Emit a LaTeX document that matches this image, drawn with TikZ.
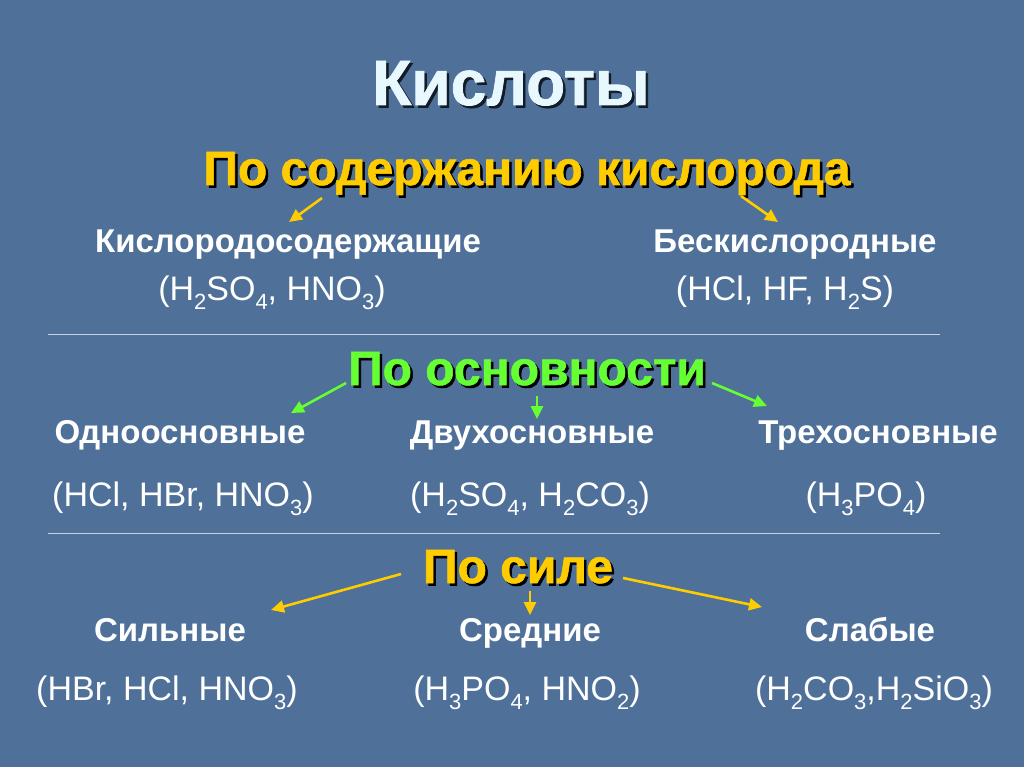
\documentclass[tikz,border=0pt]{standalone}
\usepackage{fontspec}
\setmainfont{Liberation Sans}
\newfontfamily\headfont[FakeBold=1.2]{Liberation Sans Bold}
\newfontfamily\titlefont[FakeBold=1.2]{Liberation Sans Bold}
\usetikzlibrary{arrows.meta}
\definecolor{bgblue}{HTML}{4E7099}
\definecolor{hyellow}{HTML}{FFCC00}
\definecolor{hgreen}{HTML}{66FF33}
\definecolor{titlec}{HTML}{E8F8FF}
\definecolor{rule}{HTML}{C8D2E0}
\newcommand\sbs[1]{\raisebox{-0.28em}{\fontsize{22}{22}\selectfont #1}}
\newcommand\shd[2]{\rlap{\hspace{2.5pt}\raisebox{-2.5pt}{\color{#1}#2}}#2}
\begin{document}
\begin{tikzpicture}[x=1pt,y=-1pt,
  body/.style={text=white,font=\fontsize{33}{36}\selectfont\bfseries,inner sep=0pt,anchor=base},
  form/.style={text=white,font=\fontsize{34}{36}\selectfont,inner sep=0pt,anchor=base},
  title/.style={text=titlec,font=\fontsize{64}{66}\titlefont,inner sep=0pt,anchor=base},
  head/.style={font=\fontsize{48}{54}\headfont,inner sep=0pt,anchor=base},
  yarrow/.style={draw=hyellow,line width=2.6pt,-{Triangle[length=13pt,width=12pt]}},
  garrow/.style={draw=hgreen,line width=2.6pt,-{Triangle[length=13pt,width=12pt]}},
  sep/.style={draw=rule,line width=1pt}]
\useasboundingbox (0,0) rectangle (1024,767);
\fill[bgblue] (0,0) rectangle (1024,767);

\node[title] (t) at (511,105) {\shd{black!75!bgblue}{Кислоты}};

% section 1
\node[head,text=hyellow] (h1) at (527,185) {\shd{black}{По содержанию кислорода}};
\node[body] (a1) at (288,252) {Кислородосодержащие};
\node[form] (a2) at (272,300) {(H\sbs{2}SO\sbs{4}, HNO\sbs{3})};
\node[body] (b1) at (795,252) {Бескислородные};
\node[form] (b2) at (785,300) {(HCl, HF, H\sbs{2}S)};
\coordinate (h1l) at (322,198);
\coordinate (a1t) at (289,222);
\coordinate (h1r) at (741,196);
\coordinate (b1t) at (778,222);
\draw[yarrow] (h1l) -- (a1t);
\draw[yarrow] (h1r) -- (b1t);

\coordinate (s1a) at (48,334);
\coordinate (s1b) at (940,334);
\draw[sep] (s1a) -- (s1b);

% section 2
\node[head,text=hgreen] (h2) at (527,385) {\shd{black}{По основности}};
\node[body] (c1) at (180,443) {Одноосновные};
\node[form] (c2) at (183,506) {(HCl, HBr, HNO\sbs{3})};
\node[body] (d1) at (532,443) {Двухосновные};
\node[form] (d2) at (530,506) {(H\sbs{2}SO\sbs{4}, H\sbs{2}CO\sbs{3})};
\node[body] (e1) at (878,443) {Трехосновные};
\node[form] (e2) at (866,506) {(H\sbs{3}PO\sbs{4})};
\coordinate (h2l) at (346,383);
\coordinate (c1t) at (291,413);
\coordinate (h2m) at (537,396);
\coordinate (d1t) at (537,419);
\coordinate (h2r) at (712,383);
\coordinate (e1t) at (767,406);
\draw[garrow] (h2l) -- (c1t);
\draw[garrow] (h2m) -- (d1t);
\draw[garrow] (h2r) -- (e1t);

\coordinate (s2a) at (48,533);
\coordinate (s2b) at (940,533);
\draw[sep] (s2a) -- (s2b);

% section 3
\node[head,text=hyellow] (h3) at (518,583) {\shd{black}{По силе}};
\node[body] (f1) at (170,641) {Сильные};
\node[form] (f2) at (167,700) {(HBr, HCl, HNO\sbs{3})};
\node[body] (g1) at (530,641) {Средние};
\node[form] (g2) at (527,700) {(H\sbs{3}PO\sbs{4}, HNO\sbs{2})};
\node[body] (k1) at (870,641) {Слабые};
\node[form] (k2) at (874,700) {(H\sbs{2}CO\sbs{3},H\sbs{2}SiO\sbs{3})};
\coordinate (h3l) at (401,574);
\coordinate (f1t) at (271,610);
\coordinate (h3m) at (530,591);
\coordinate (g1t) at (530,615);
\coordinate (h3r) at (623,578);
\coordinate (k1t) at (762,607);
\draw[yarrow] (h3l) -- (f1t);
\draw[yarrow] (h3m) -- (g1t);
\draw[yarrow] (h3r) -- (k1t);
\end{tikzpicture}
\end{document}
